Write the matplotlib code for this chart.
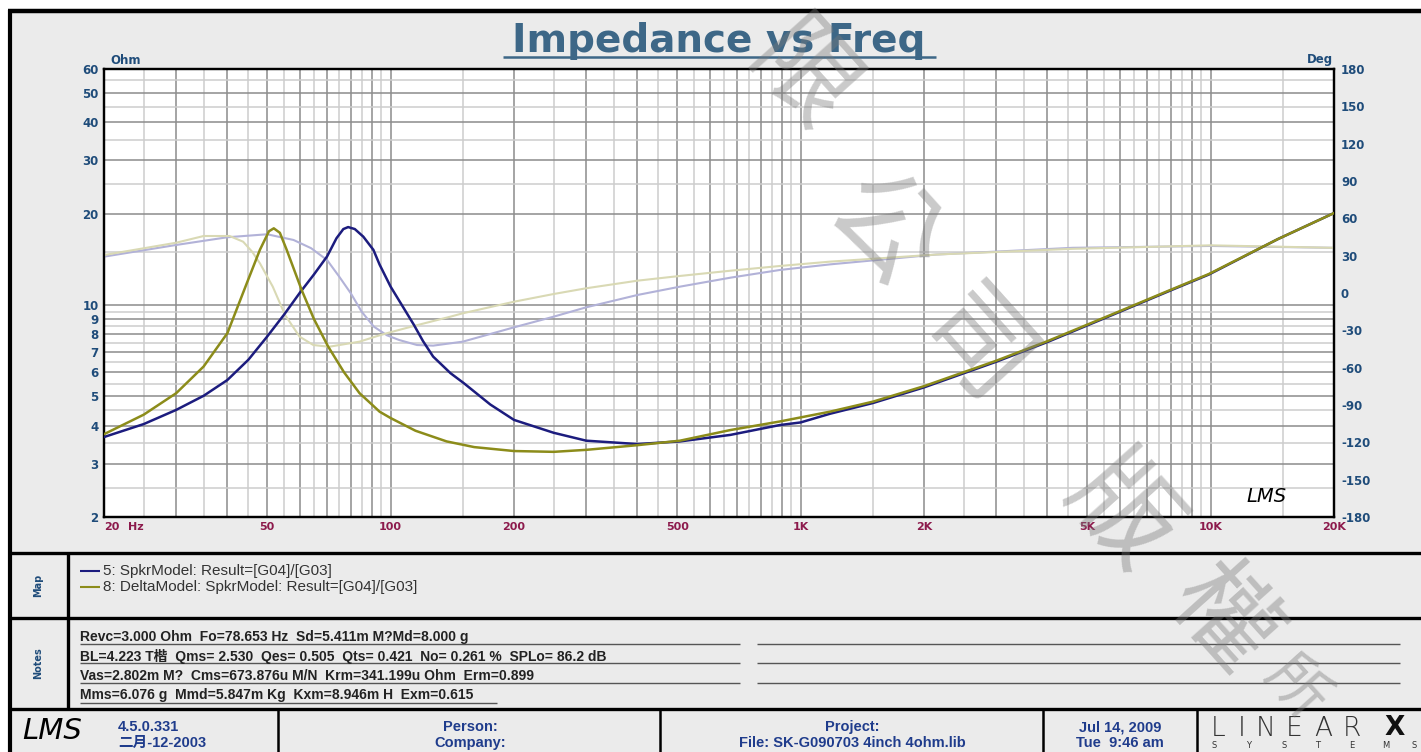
import matplotlib
matplotlib.use('Agg')
import matplotlib.pyplot as plt
from matplotlib.patches import Rectangle
from matplotlib.ticker import FixedLocator, NullFormatter

# ---- values ----
freq_blue = [20, 25, 30, 35, 40, 45, 50, 55, 60, 65, 70, 73.8, 76.7, 78.8, 81.8, 85.8, 90.8,
             94, 100, 107, 114, 120, 127, 140, 151, 175, 200, 250, 300, 400, 508, 674, 890,
             1000, 1180, 1500, 2000, 3000, 4000, 5900, 7900, 9900, 14600, 20000]
z_blue = [3.67, 4.05, 4.51, 5.02, 5.66, 6.6, 7.87, 9.3, 10.95, 12.6, 14.46, 16.6, 17.8, 18.07,
          17.8, 16.8, 15.2, 13.6, 11.5, 9.9, 8.6, 7.6, 6.76, 5.96, 5.52, 4.7, 4.18, 3.79, 3.57,
          3.48, 3.55, 3.73, 4.02, 4.1, 4.38, 4.75, 5.35, 6.5, 7.55, 9.4, 11.1, 12.6, 16.5, 20.1]

freq_olive = [20, 25, 30, 35, 40, 44.6, 48, 50.5, 51.9, 53.7, 55.8, 60.7, 65, 70.4, 77, 84, 90,
              94, 100, 115, 137, 160, 200, 250, 300, 400, 508, 674, 890, 1180, 1500, 2000,
              3000, 4000, 5900, 7900, 9900, 14600, 20000]
z_olive = [3.75, 4.35, 5.12, 6.27, 8.08, 11.8, 15.2, 17.5, 17.9, 17.3, 15.2, 11.2, 9.0, 7.30,
           6.0, 5.12, 4.7, 4.45, 4.24, 3.85, 3.55, 3.40, 3.30, 3.28, 3.33, 3.45, 3.57, 3.87,
           4.13, 4.45, 4.8, 5.4, 6.55, 7.6, 9.45, 11.15, 12.65, 16.5, 20.1]

freq_bphase = [20, 30, 40, 50, 58, 64, 70, 75, 80, 85, 91, 98, 105, 116, 127, 150, 200, 250,
               300, 400, 508, 674, 890, 1180, 2140, 4600, 10000, 20000]
phase_blue = [29.2, 38.6, 44.8, 47.2, 42.6, 36, 26.5, 13, -0.3, -15, -27, -34, -37.8, -41.8,
              -42.3, -39.1, -27.6, -19, -11.5, -1.6, 5.1, 12.3, 18.5, 23, 30.9, 36.3, 37.8, 36.3]

freq_ophase = [20, 30, 35, 40.5, 43.7, 46, 48, 51.6, 55.3, 60, 64.8, 70.8, 84, 94, 100, 114,
               140, 150, 200, 250, 300, 400, 508, 674, 890, 1180, 2140, 4600, 10000, 20000]
phase_olive = [30.5, 40.4, 45.8, 45.8, 41.2, 33, 23.9, 5.1, -17.7, -35.1, -41.8, -43.2, -39.1,
               -34, -31.5, -26.5, -19, -16.3, -7, -0.8, 3.8, 9.9, 13.7, 17.9, 21.7, 25.2, 30.9,
               35.5, 38.3, 36.3]

ohm_ticks = [2, 3, 4, 5, 6, 7, 8, 9, 10, 20, 30, 40, 50, 60]
deg_ticks = list(range(-180, 181, 30))
freq_label_pos = [20, 50, 100, 200, 500, 1000, 2000, 5000, 10000, 20000]
freq_label_txt = ['20', '50', '100', '200', '500', '1K', '2K', '5K', '10K', '20K']

legend_txt = ['5: SpkrModel: Result=[G04]/[G03]',
              '8: DeltaModel: SpkrModel: Result=[G04]/[G03]']
notes_txt = ['Revc=3.000 Ohm  Fo=78.653 Hz  Sd=5.411m M?Md=8.000 g',
             'BL=4.223 T楷  Qms= 2.530  Qes= 0.505  Qts= 0.421  No= 0.261 %  SPLo= 86.2 dB',
             'Vas=2.802m M?  Cms=673.876u M/N  Krm=341.199u Ohm  Erm=0.899',
             'Mms=6.076 g  Mmd=5.847m Kg  Kxm=8.946m H  Exm=0.615']
watermark = ['限', '公', '司', '版', '權', '所']

NAVY = '#1c1c7e'
OLIVE = '#8c8c1a'
LAVENDER = '#b2b2d8'
KHAKI = '#d9d9b4'
TICKBLUE = '#1f4c7a'
XRED = '#8c1a4c'
CJK = ['Liberation Sans', 'Noto Sans CJK TC']

W, H = 1421, 752
fig = plt.figure(figsize=(W / 100, H / 100), dpi=100)

# background / frame drawn in pixel coordinates
bg = fig.add_axes([0, 0, 1, 1])
bg.set_xlim(0, W)
bg.set_ylim(H, 0)
bg.axis('off')
bg.add_patch(Rectangle((10, 10), W - 10, H - 10, facecolor='#ebebeb', edgecolor='none'))


def seg(x0, y0, x1, y1, lw, color='black'):
    bg.plot([x0, x1], [y0, y1], color=color, lw=lw, solid_capstyle='butt')


seg(8, 11, W, 11, 3.2)
seg(10, 10, 10, H, 3.0)
for yy in (553, 618, 709):
    seg(10, yy, W, yy, 2.4)
seg(68, 553, 68, 709, 2.4)
for xx in (278, 660, 1043, 1197):
    seg(xx, 709, xx, H, 1.8)

bg.text(719, 52, 'Impedance vs Freq', ha='center', va='baseline', fontsize=28,
        weight='bold', color='#3d6787', family='DejaVu Sans')
seg(503, 57, 936, 57, 1.8, '#3d6787')

bg.text(110, 60, 'Ohm', ha='left', va='center', fontsize=8.5, weight='bold',
        color=TICKBLUE, family='DejaVu Sans')
bg.text(1333, 60, 'Deg', ha='right', va='center', fontsize=8.5, weight='bold',
        color=TICKBLUE, family='DejaVu Sans')
bg.text(128, 527, 'Hz', ha='left', va='center', fontsize=8, weight='bold',
        color=XRED, family='DejaVu Sans')

# map panel
bg.text(38, 585, 'Map', rotation=90, ha='center', va='center', fontsize=7,
        weight='bold', color=TICKBLUE)
for i, (txt, col) in enumerate(zip(legend_txt, [NAVY, OLIVE])):
    yy = 571 + 16 * i
    seg(80, yy, 100, yy, 1.5, col)
    bg.text(103, yy, txt, ha='left', va='center', fontsize=11, color='#333333',
            family='Liberation Sans')

# notes panel
bg.text(38, 663, 'Notes', rotation=90, ha='center', va='center', fontsize=7,
        weight='bold', color=TICKBLUE)
for i, txt in enumerate(notes_txt):
    yy = 637 + 19.5 * i
    bg.text(80, yy, txt, ha='left', va='center', fontsize=10, weight='bold',
            color='#222222', family=CJK)
    if i < 3:
        seg(80, yy + 6.5, 740, yy + 6.5, 1.0, '#555555')
        seg(757, yy + 6.5, 1400, yy + 6.5, 1.0, '#555555')
seg(80, 703, 497, 703, 1.0, '#555555')

# footer
FOOT = '#1f3c8c'
ffam = ['Liberation Sans Narrow', 'Liberation Sans', 'Noto Sans CJK SC']
bg.text(22, 731, 'LMS', ha='left', va='center', fontsize=21, style='italic',
        color='black', family='DejaVu Sans', weight='light')
bg.text(118, 727, '4.5.0.331', ha='left', va='center', fontsize=10.5, weight='bold',
        color=FOOT, family=ffam)
bg.text(118, 743, '二月-12-2003', ha='left', va='center', fontsize=10.5, weight='bold',
        color=FOOT, family=ffam)
for cx, l1, l2 in [(470, 'Person:', 'Company:'),
                   (852, 'Project:', 'File: SK-G090703 4inch 4ohm.lib'),
                   (1120, 'Jul 14, 2009', 'Tue  9:46 am')]:
    bg.text(cx, 727, l1, ha='center', va='center', fontsize=10.5, weight='bold',
            color=FOOT, family=ffam)
    bg.text(cx, 743, l2, ha='center', va='center', fontsize=10.5, weight='bold',
            color=FOOT, family=ffam)
for ch, xx in zip('LINEAR', [1218, 1242, 1266, 1294, 1323, 1352]):
    bg.text(xx, 729, ch, ha='center', va='center', fontsize=19, color='#333333',
            family='DejaVu Sans', weight='light')
bg.text(1395, 728, 'X', ha='center', va='center', fontsize=19, color='#111111',
        family='DejaVu Sans', weight='bold')
for ch, xx in zip('SYSTEMS', [1214, 1249, 1284, 1318, 1352, 1386, 1414]):
    bg.text(xx, 746, ch, ha='center', va='center', fontsize=6, color='#333333')

# ---- main chart ----
ax = fig.add_axes([104 / W, 1 - 517 / H, 1230 / W, 448 / H])
ax.set_facecolor('white')
ax.set_xscale('log')
ax.set_yscale('log')
ax.set_xlim(20, 20000)
ax.set_ylim(2, 60)

xdark = [m * 10 ** k for k in range(1, 5) for m in range(1, 10) if 20 <= m * 10 ** k <= 20000]
xlight = [(m + 0.5) * 10 ** k for k in range(1, 5) for m in range(1, 10)
          if 20 <= (m + 0.5) * 10 ** k <= 20000]
ylight = [(m + 0.5) * 10 ** k for k in range(0, 2) for m in range(1, 10)
          if 2 <= (m + 0.5) * 10 ** k <= 60]
ax.xaxis.set_major_locator(FixedLocator(xdark))
ax.xaxis.set_minor_locator(FixedLocator(xlight))
ax.xaxis.set_major_formatter(NullFormatter())
ax.xaxis.set_minor_formatter(NullFormatter())
ax.yaxis.set_major_locator(FixedLocator(ohm_ticks))
ax.yaxis.set_minor_locator(FixedLocator(ylight))
ax.set_yticklabels([str(v) for v in ohm_ticks])
ax.yaxis.set_minor_formatter(NullFormatter())
ax.grid(True, which='major', color='#8c8c8c', lw=1.1)
ax.grid(True, which='minor', color='#cdcdcd', lw=1.1)
ax.set_axisbelow(True)
ax.tick_params(which='both', length=0)
ax.tick_params(axis='y', pad=4, labelsize=8.5, labelcolor=TICKBLUE)
for lab in ax.get_yticklabels():
    lab.set_fontweight('bold')
    lab.set_family('DejaVu Sans')

xt = ax.get_xaxis_transform()
for f, t in zip(freq_label_pos, freq_label_txt):
    ha = 'left' if f == 20 else 'center'
    ax.text(f, -10 / 448, t, transform=xt, ha=ha, va='center', fontsize=8,
            weight='bold', color=XRED, family='DejaVu Sans', clip_on=False)

ax2 = ax.twinx()
ax2.set_ylim(-180, 180)
ax2.set_yticks(deg_ticks)
ax2.set_yticklabels([str(v) for v in deg_ticks])
ax2.tick_params(length=0, pad=5, labelsize=8.5, labelcolor=TICKBLUE)
for lab in ax2.get_yticklabels():
    lab.set_fontweight('bold')
    lab.set_family('DejaVu Sans')

ax2.plot(freq_bphase, phase_blue, color=LAVENDER, lw=1.5, zorder=2)
ax2.plot(freq_ophase, phase_olive, color=KHAKI, lw=1.5, zorder=2)
ax2.plot(freq_blue, z_blue, color=NAVY, lw=1.8, zorder=3, transform=ax.transData)
ax2.plot(freq_olive, z_olive, color=OLIVE, lw=1.8, zorder=3, transform=ax.transData)
ax2.set_xlim(20, 20000)

for a in (ax, ax2):
    for s in a.spines.values():
        s.set_color('black')
        s.set_linewidth(1.6)

ax2.text(0.945, 0.045, 'LMS', transform=ax2.transAxes, ha='center', va='center',
         fontsize=14, style='italic', color='black', family='DejaVu Sans')

# diagonal watermark
for ch, (xx, yy), fs in zip(watermark,
                            [(800, 80), (882, 232), (972, 352), (1120, 515), (1222, 620),
                             (1295, 688)],
                            [74, 78, 78, 78, 74, 44]):
    fig.text(xx / W, 1 - yy / H, ch, ha='center', va='center', fontsize=fs,
             rotation=-48, color='#7a7a7a', alpha=0.4, family='Noto Sans CJK TC',
             zorder=10)

fig.savefig('out.png', dpi=100)
